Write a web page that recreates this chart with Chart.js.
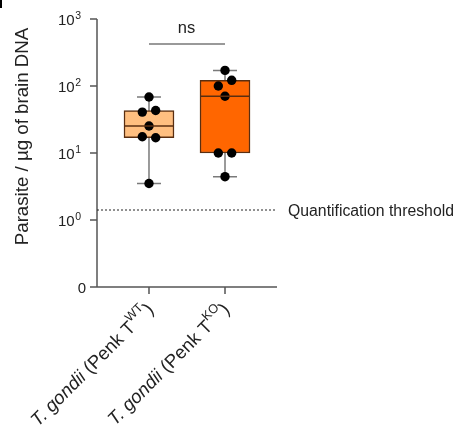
<!DOCTYPE html>
<html>
<head>
<meta charset="utf-8">
<script src="https://cdn.jsdelivr.net/npm/chart.js@4.4.1/dist/chart.umd.min.js"></script>
<style>
  html, body { margin: 0; padding: 0; background: #fff; }
  #wrap { position: relative; width: 456px; height: 435px; }
</style>
</head>
<body>
<div id="wrap"><canvas id="c" width="456" height="435"></canvas></div>
<script>
// ---- data ----
const groups = ['WT', 'KO'];
const wtValues = [68.5, 40.8, 43.1, 25.3, 17.5, 16.9, 3.5];
const koValues = [171, 100, 121.6, 70.2, 10, 10, 4.43];
const yTicks = [0.1, 1, 10, 100, 1000];
const yTickExp = [null, 0, 1, 2, 3];
const threshold = 1.41;

const FILLS = ['#ffbf80', '#ff6600'];
const AXIS = '#555555';
const FONT = "'Liberation Sans', Arial, sans-serif";

// quartiles the way Prism does it: position (n+1)p
function quantile(sorted, p) {
  const pos = (sorted.length + 1) * p;
  const lo = Math.floor(pos), hi = Math.ceil(pos);
  const a = sorted[Math.max(0, lo - 1)], b = sorted[Math.min(sorted.length - 1, hi - 1)];
  return a + (b - a) * (pos - lo);
}
function boxStats(vals) {
  const s = [...vals].sort((a, b) => a - b);
  return { min: s[0], q1: quantile(s, 0.25), med: quantile(s, 0.5), q3: quantile(s, 0.75), max: s[s.length - 1] };
}
const stats = [boxStats(wtValues), boxStats(koValues)];

// small swarm: neighbours closer than ~0.12 decade get spread left/right
function swarm(vals, center) {
  const step = 0.088;
  const used = new Array(vals.length).fill(false);
  const out = [];
  vals.forEach((v, i) => {
    if (used[i]) return;
    const cl = [i];
    vals.forEach((w, j) => {
      if (j > i && !used[j] && Math.abs(Math.log10(v) - Math.log10(w)) < 0.12) cl.push(j);
    });
    cl.forEach((k, n) => {
      used[k] = true;
      out.push({ x: center + (n - (cl.length - 1) / 2) * 2 * step, y: vals[k] });
    });
  });
  return out;
}
const points = [...swarm(wtValues, 1), ...swarm(koValues, 2)];

function supText(ctx, x, y, base, sup, size) {
  ctx.font = `${size}px ${FONT}`;
  ctx.fillText(base, x, y);
  const w = ctx.measureText(base).width;
  ctx.font = `${size * 0.7}px ${FONT}`;
  ctx.fillText(sup, x + w + 0.5, y - size * 0.4);
}

const decor = {
  id: 'decor',
  beforeDatasetsDraw(chart) {
    const { ctx, scales: { x, y } } = chart;
    ctx.save();
    // whiskers
    ctx.strokeStyle = '#7a7a7a';
    ctx.lineWidth = 1.5;
    stats.forEach((s, i) => {
      const px = x.getPixelForValue(i + 1);
      const cap = 12;
      ctx.beginPath();
      ctx.moveTo(px, y.getPixelForValue(s.max)); ctx.lineTo(px, y.getPixelForValue(s.min));
      ctx.moveTo(px - cap, y.getPixelForValue(s.max)); ctx.lineTo(px + cap, y.getPixelForValue(s.max));
      ctx.moveTo(px - cap, y.getPixelForValue(s.min)); ctx.lineTo(px + cap, y.getPixelForValue(s.min));
      ctx.stroke();
    });
    ctx.restore();
  },
  afterDatasetsDraw(chart) {
    const { ctx, scales: { x, y } } = chart;
    ctx.save();
    // medians
    ctx.strokeStyle = '#5a2e10';
    ctx.lineWidth = 1.5;
    stats.forEach((s, i) => {
      const px = x.getPixelForValue(i + 1);
      const py = y.getPixelForValue(s.med);
      ctx.beginPath(); ctx.moveTo(px - 25, py); ctx.lineTo(px + 25, py); ctx.stroke();
    });
    ctx.restore();
  },
  afterDraw(chart) {
    const { ctx, scales: { x, y }, chartArea: a } = chart;
    ctx.save();
    ctx.fillStyle = '#000';
    ctx.fillRect(0, 0, 2, 8);

    // axes
    ctx.strokeStyle = AXIS;
    ctx.lineWidth = 1.5;
    ctx.beginPath();
    ctx.moveTo(a.left, a.top); ctx.lineTo(a.left, a.bottom); ctx.lineTo(a.right, a.bottom);
    yTicks.forEach(t => { const py = y.getPixelForValue(t); ctx.moveTo(a.left - 7, py); ctx.lineTo(a.left, py); });
    [1, 2].forEach(t => { const px = x.getPixelForValue(t); ctx.moveTo(px, a.bottom); ctx.lineTo(px, a.bottom + 7); });
    ctx.stroke();

    // y tick labels
    ctx.fillStyle = '#222';
    ctx.textBaseline = 'alphabetic';
    yTicks.forEach((t, i) => {
      const py = y.getPixelForValue(t) + 5.5;
      if (yTickExp[i] === null) {
        ctx.font = `15px ${FONT}`;
        ctx.textAlign = 'right';
        ctx.fillText('0', a.left - 11, py);
      } else {
        ctx.textAlign = 'left';
        supText(ctx, a.left - 39, py, '10', String(yTickExp[i]), 15);
      }
    });

    // y title
    ctx.save();
    ctx.translate(28, 136.5);
    ctx.rotate(-Math.PI / 2);
    ctx.textAlign = 'center';
    ctx.textBaseline = 'alphabetic';
    ctx.font = `18.7px ${FONT}`;
    ctx.fillText('Parasite / \u00b5g of brain DNA', 0, 0);
    ctx.restore();

    // threshold
    const ty = y.getPixelForValue(threshold);
    ctx.strokeStyle = '#222';
    ctx.lineWidth = 1;
    ctx.setLineDash([2, 2]);
    ctx.beginPath(); ctx.moveTo(a.left, ty); ctx.lineTo(a.right, ty); ctx.stroke();
    ctx.setLineDash([]);
    ctx.textAlign = 'left';
    ctx.textBaseline = 'alphabetic';
    ctx.font = `15.8px ${FONT}`;
    ctx.fillText('Quantification threshold', a.right + 11, ty + 6);

    // ns bracket
    const x1 = x.getPixelForValue(1), x2 = x.getPixelForValue(2);
    ctx.strokeStyle = '#777';
    ctx.lineWidth = 1.5;
    ctx.beginPath(); ctx.moveTo(x1, 44); ctx.lineTo(x2, 44); ctx.stroke();
    ctx.textAlign = 'center';
    ctx.font = `16.5px ${FONT}`;
    ctx.fillText('ns', (x1 + x2) / 2 - 0.5, 32.5);

    // x labels
    groups.forEach((g, i) => {
      const px = x.getPixelForValue(i + 1);
      ctx.save();
      ctx.translate(px + 2, a.bottom + 20);
      ctx.rotate(-Math.PI / 4);
      const size = 18.5;
      const parts = [
        { t: 'T. gondii', f: `italic ${size}px ${FONT}`, dy: 0 },
        { t: ' (Penk T', f: `${size}px ${FONT}`, dy: 0 },
        { t: g, f: `${size * 0.68}px ${FONT}`, dy: -size * 0.42 },
        { t: ')', f: `${size}px ${FONT}`, dy: 0 },
      ];
      let total = 0;
      parts.forEach(p => { ctx.font = p.f; p.w = ctx.measureText(p.t).width; total += p.w; });
      let cx = -total;
      ctx.textAlign = 'left';
      ctx.textBaseline = 'middle';
      parts.forEach(p => { ctx.font = p.f; ctx.fillText(p.t, cx, p.dy); cx += p.w; });
      ctx.restore();
    });
    ctx.restore();
  }
};

new Chart(document.getElementById('c'), {
  data: {
    datasets: [
      {
        type: 'bar',
        data: stats.map((s, i) => ({ x: i + 1, y: [s.q1, s.q3] })),
        backgroundColor: FILLS,
        borderColor: '#5a2e10',
        borderWidth: 1.5,
        borderSkipped: false,
        barThickness: 50,
        order: 2,
      },
      {
        type: 'scatter',
        data: points,
        pointRadius: 4.7,
        pointBackgroundColor: '#000',
        pointBorderWidth: 0,
        order: 1,
      },
    ],
  },
  options: {
    responsive: false,
    animation: false,
    layout: { padding: { left: 97, top: 19, right: 179, bottom: 148 } },
    plugins: { legend: { display: false }, tooltip: { enabled: false } },
    scales: {
      x: { type: 'linear', min: 0.316, max: 2.684, offset: false, display: false },
      y: { type: 'logarithmic', min: 0.1, max: 1000, display: false },
    },
  },
  plugins: [decor],
});
</script>
</body>
</html>
